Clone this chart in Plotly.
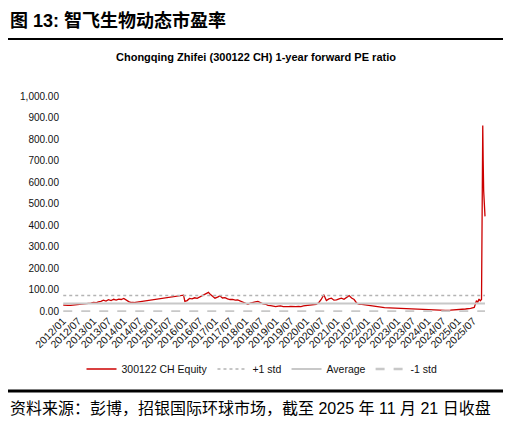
"""
Chongqing Zhifei (300122 CH) 1-year forward PE ratio, with mean and +/-1 std bands.
"""

import plotly.graph_objects as go

# Data (monthly-ish samples)
dates = [
    "2012-01-04", "2012-02-01", "2012-03-01", "2012-04-01", "2012-05-01", "2012-06-01",
    "2012-07-01", "2012-08-01", "2012-09-01", "2012-10-01", "2012-11-01", "2012-12-01",
    "2013-01-01", "2013-02-01", "2013-03-01", "2013-04-01", "2013-05-01", "2013-06-01",
    "2013-07-01", "2013-08-01", "2013-09-01", "2013-10-01", "2013-11-01", "2013-12-01",
    "2014-01-01", "2014-02-01", "2014-03-01", "2014-04-01", "2014-05-01",
    "2015-12-20", "2016-01-05", "2016-02-01", "2016-03-01", "2016-04-01", "2016-05-01",
    "2016-06-01", "2016-07-01", "2016-08-01", "2016-09-01", "2016-10-15", "2016-11-01",
    "2016-12-01", "2017-01-01", "2017-02-01", "2017-03-01", "2017-04-01", "2017-05-01",
    "2017-06-01", "2017-07-01", "2017-08-01", "2017-09-01", "2017-10-01", "2017-11-01",
    "2017-12-01", "2018-01-01", "2018-02-01", "2018-03-01", "2018-04-01", "2018-05-01",
    "2018-06-01", "2018-07-01", "2018-08-01", "2018-09-01", "2018-10-01", "2018-11-01",
    "2018-12-01", "2019-01-01", "2019-02-01", "2019-03-01", "2019-04-01", "2019-05-01",
    "2019-06-01", "2019-07-01", "2019-08-01", "2019-09-01", "2019-10-01", "2019-11-01",
    "2019-12-01", "2020-01-01", "2020-02-01", "2020-03-01", "2020-04-01", "2020-05-01",
    "2020-06-01", "2020-07-01", "2020-08-01", "2020-09-01", "2020-10-01", "2020-11-01",
    "2020-12-01", "2021-01-01", "2021-02-01", "2021-03-01", "2021-04-01", "2021-05-01",
    "2021-06-01", "2021-07-01", "2021-08-01", "2021-09-01", "2021-10-01", "2021-11-01",
    "2021-12-01", "2022-01-01", "2022-02-01", "2022-03-01", "2022-04-01", "2022-05-01",
    "2022-06-01", "2022-08-01", "2022-10-01", "2022-12-01", "2023-02-01", "2023-04-01",
    "2023-06-01", "2023-08-01", "2023-10-01", "2023-12-01", "2024-02-01", "2024-05-01",
    "2024-08-01", "2024-10-01", "2024-12-01", "2025-02-01", "2025-04-01", "2025-06-01",
    "2025-07-15", "2025-08-10", "2025-08-25", "2025-09-10", "2025-09-25", "2025-10-10",
    "2025-10-25", "2025-10-30", "2025-11-05", "2025-11-12", "2025-11-21",
]
pe_ratio = [
    29, 27, 28, 28, 29, 29,
    30, 31, 32, 33, 34, 38,
    42, 40, 44, 46, 52, 48,
    54, 50, 56, 52, 57, 55,
    60, 50, 45, 41, 41,
    75, 46, 50, 60, 58, 63,
    60, 66, 70, 78, 88, 80,
    70, 61, 66, 72, 62, 64,
    58, 55, 56, 52, 53, 48,
    46, 40, 33, 38, 42, 44,
    46, 40, 35, 33, 28, 27,
    24, 22, 24, 25, 22, 21,
    22, 23, 21, 22, 23, 22,
    25, 27, 28, 29, 31, 33,
    40, 55, 77, 50, 58, 61,
    52, 53, 58, 61, 56, 64,
    73, 62, 55, 38, 33, 32,
    30, 29, 28, 26, 22, 20,
    18, 17, 16, 15, 14, 12,
    11, 10, 9, 8, 6, 4,
    5, 6, 7, 9, 11, 14,
    18, 50, 41, 57, 49, 55,
    863, 700, 560, 500, 441,
]

# Band values
pe_average = 36.5
pe_plus_std = 73.5
pe_minus_std = -0.5

band_dates = [dates[0], dates[-1]]

fig = go.Figure()

fig.add_trace(go.Scatter(
    x=dates, y=pe_ratio, mode="lines", name="300122 CH Equity",
    line=dict(color="#CC0000", width=1.3),
))
fig.add_trace(go.Scatter(
    x=band_dates, y=[pe_plus_std] * 2, mode="lines", name="+1 std",
    line=dict(color="#B4B4B4", width=1.5, dash="dot"),
))
fig.add_trace(go.Scatter(
    x=band_dates, y=[pe_average] * 2, mode="lines", name="Average",
    line=dict(color="#C8C8C8", width=2.2),
))
fig.add_trace(go.Scatter(
    x=band_dates, y=[pe_minus_std] * 2, mode="lines", name="-1 std",
    line=dict(color="#C8C8C8", width=2.5, dash="dash"),
))

# page body adds an 8px margin, so the figure is drawn 8px smaller and
# positions below are given in screen pixels, then shifted back
OFF = 8
W, H = 511 - OFF, 425 - OFF
plot_l, plot_r, plot_t, plot_b = 60 - OFF, 487 - OFF, 96 - OFF, 312 - OFF
pw, ph = plot_r - plot_l, plot_b - plot_t


def px_x(x):
    return (x - OFF - plot_l) / pw


def px_y(y):
    return (plot_b - (y - OFF)) / ph


fig.update_layout(
    width=W, height=H,
    margin=dict(l=plot_l, r=W - plot_r, t=plot_t, b=H - plot_b, autoexpand=False),
    paper_bgcolor="white", plot_bgcolor="white",
    font=dict(family="Liberation Sans, Arial", size=10, color="#111111"),
    showlegend=True,
    legend=dict(
        orientation="h", x=px_x(262), y=px_y(369),
        xanchor="center", yanchor="middle",
        font=dict(size=10.5), itemwidth=30, tracegroupgap=0,
    ),
    xaxis=dict(
        type="date", range=["2011-11-26", "2025-12-15"],
        tick0="2012-01-01", dtick="M6", tickformat="%Y/%m",
        tickangle=-45, showgrid=False, zeroline=False, showline=False,
        ticks="", tickfont=dict(size=10.5), automargin=False,
    ),
    yaxis=dict(
        range=[-3, 1000], dtick=100, tick0=0, tickformat=",.2f",
        showgrid=False, zeroline=False, showline=False, ticks="",
        tickfont=dict(size=10), automargin=False,
    ),
    shapes=[
        dict(type="line", xref="paper", yref="paper",
             x0=px_x(8), x1=px_x(506), y0=px_y(39), y1=px_y(39),
             line=dict(color="black", width=2)),
        dict(type="line", xref="paper", yref="paper",
             x0=px_x(8), x1=px_x(506), y0=px_y(391), y1=px_y(391),
             line=dict(color="black", width=3)),
    ],
    annotations=[
        dict(text="<b>图 13: 智飞生物动态市盈率</b>", xref="paper", yref="paper",
             x=px_x(8), y=px_y(20), xanchor="left", yanchor="middle",
             showarrow=False,
             font=dict(family="Liberation Sans, Noto Sans CJK SC", size=18, color="black")),
        dict(text="<b>Chongqing Zhifei (300122 CH) 1-year forward PE ratio</b>",
             xref="paper", yref="paper", x=px_x(256), y=px_y(57),
             xanchor="center", yanchor="middle", showarrow=False,
             font=dict(family="Liberation Sans, Arial", size=11, color="black")),
        dict(text="资料来源：彭博，招银国际环球市场，截至 2025 年 11 月 21 日收盘",
             xref="paper", yref="paper", x=px_x(8), y=px_y(408),
             xanchor="left", yanchor="middle", showarrow=False,
             font=dict(family="Liberation Sans, Noto Sans CJK SC", size=16, color="black")),
    ],
)

fig.write_html("out.html")
